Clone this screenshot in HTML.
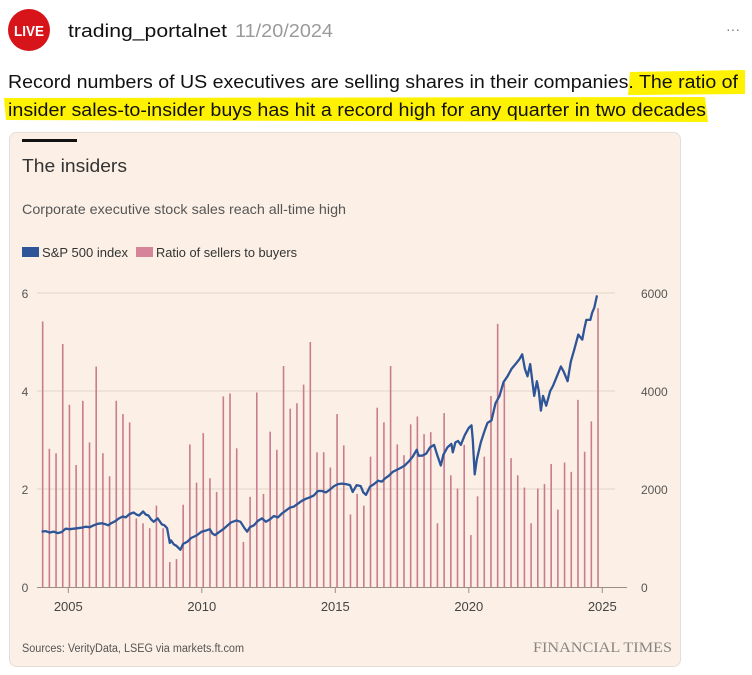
<!DOCTYPE html>
<html><head><meta charset="utf-8"><style>
html,body{margin:0;padding:0;background:#fff;width:752px;height:675px;overflow:hidden}
svg{display:block;font-family:"Liberation Sans",sans-serif}
</style></head><body>
<svg id="page" width="752" height="675" viewBox="0 0 752 675">
<g>
<circle cx="29" cy="30" r="21" fill="#d7141a"/>
<text x="29" y="36" text-anchor="middle" fill="#fff" font-weight="bold" font-size="15" textLength="30" lengthAdjust="spacingAndGlyphs">LIVE</text>
<text x="68" y="37" font-size="18" fill="#111" textLength="159" lengthAdjust="spacingAndGlyphs">trading_portalnet</text>
<text x="235" y="37" font-size="18" fill="#9a9a9a" textLength="98" lengthAdjust="spacingAndGlyphs">11/20/2024</text>
<text x="733" y="34" font-size="14" fill="#777" text-anchor="middle">···</text>
</g>
<g>
<path d="M630 72 L745 70 L745 94 L628 95 Z" fill="#fff200"/>
<path d="M4 98 L705 97 L708 122 L6 120 Z" fill="#fff200"/>
<text x="8" y="88" font-size="18" fill="#111" textLength="730" lengthAdjust="spacingAndGlyphs">Record numbers of US executives are selling shares in their companies. The ratio of</text>
<text x="8" y="116" font-size="18" fill="#111" textLength="698" lengthAdjust="spacingAndGlyphs">insider sales-to-insider buys has hit a record high for any quarter in two decades</text>
</g>
<g>
<rect x="9.5" y="132.5" width="671" height="534" rx="7" fill="#fcf0e6" stroke="#e3ddd6"/>
<rect x="22" y="139" width="55" height="3" fill="#111"/>
<text x="22" y="172" font-size="18" fill="#333" textLength="105" lengthAdjust="spacingAndGlyphs">The insiders</text>
<text x="22" y="214" font-size="14" fill="#555" textLength="324" lengthAdjust="spacingAndGlyphs">Corporate executive stock sales reach all-time high</text>
<g>
<rect x="22" y="247" width="17" height="10" fill="#2d5597"/>
<text x="42" y="257" font-size="12.5" fill="#333" textLength="86" lengthAdjust="spacingAndGlyphs">S&amp;P 500 index</text>
<rect x="136" y="247" width="17" height="10" fill="#d5849a"/>
<text x="156" y="257" font-size="12.5" fill="#333" textLength="141" lengthAdjust="spacingAndGlyphs">Ratio of sellers to buyers</text>
</g>
<g id="plot"></g>
<text x="22" y="652" font-size="11.5" fill="#555" textLength="222" lengthAdjust="spacingAndGlyphs">Sources: VerityData, LSEG via markets.ft.com</text>
<text x="672" y="652" font-size="15" fill="#8a8580" text-anchor="end" font-family="Liberation Serif,serif" textLength="139" lengthAdjust="spacingAndGlyphs">FINANCIAL TIMES</text>
</g>
</svg>
<script>
const ratioValues=[5.42,2.82,2.73,4.96,3.72,2.49,3.80,2.95,4.50,2.73,2.26,3.80,3.53,3.36,1.4,1.3,1.2,1.66,1.2,0.51,0.57,1.68,2.91,2.13,3.14,2.22,1.94,3.89,3.95,2.83,0.92,1.84,3.97,1.90,3.17,2.80,4.51,3.64,3.75,4.13,5.0,2.75,2.75,2.44,3.53,2.89,1.48,1.9,1.66,2.66,3.66,3.36,4.51,2.91,2.69,3.32,3.48,3.12,3.16,1.30,3.55,2.28,2.01,2.90,1.06,1.85,2.66,3.90,5.37,4.16,2.63,2.28,2.03,1.30,2.01,2.10,2.51,1.58,2.54,2.35,3.82,2.76,3.38,5.69];
const ratioStartYear=2004.04;
const spYears=[2004.0,2004.15,2004.3,2004.45,2004.6,2004.75,2004.9,2005.05,2005.2,2005.35,2005.5,2005.65,2005.8,2005.95,2006.1,2006.25,2006.4,2006.5,2006.6,2006.75,2006.9,2007.05,2007.15,2007.3,2007.45,2007.55,2007.65,2007.8,2007.9,2008.0,2008.1,2008.2,2008.35,2008.5,2008.6,2008.7,2008.8,2008.85,2008.95,2009.05,2009.2,2009.3,2009.45,2009.6,2009.8,2010.0,2010.15,2010.3,2010.4,2010.5,2010.65,2010.8,2010.95,2011.1,2011.3,2011.45,2011.6,2011.7,2011.8,2011.95,2012.1,2012.25,2012.4,2012.55,2012.7,2012.85,2013.0,2013.15,2013.3,2013.45,2013.6,2013.75,2013.9,2014.05,2014.2,2014.35,2014.5,2014.65,2014.8,2014.95,2015.1,2015.25,2015.4,2015.55,2015.65,2015.8,2015.95,2016.05,2016.15,2016.3,2016.45,2016.6,2016.75,2016.85,2017.0,2017.15,2017.3,2017.45,2017.6,2017.75,2017.9,2018.05,2018.12,2018.25,2018.4,2018.55,2018.7,2018.8,2018.95,2019.05,2019.2,2019.35,2019.4,2019.5,2019.6,2019.7,2019.85,2020.0,2020.1,2020.15,2020.22,2020.3,2020.45,2020.6,2020.7,2020.85,2021.0,2021.15,2021.3,2021.45,2021.6,2021.75,2021.9,2022.0,2022.1,2022.2,2022.3,2022.45,2022.55,2022.62,2022.7,2022.78,2022.9,2023.05,2023.15,2023.3,2023.45,2023.55,2023.7,2023.82,2023.95,2024.1,2024.25,2024.32,2024.4,2024.55,2024.62,2024.7,2024.8,2024.9];
const spValues=[1130,1140,1110,1130,1100,1120,1190,1180,1190,1200,1210,1230,1220,1260,1290,1300,1280,1260,1300,1340,1400,1440,1420,1490,1520,1480,1460,1540,1480,1460,1380,1330,1400,1280,1260,1200,900,950,870,840,760,880,920,1000,1050,1130,1150,1180,1090,1060,1120,1180,1250,1320,1360,1330,1200,1130,1220,1260,1350,1400,1330,1380,1450,1420,1500,1560,1620,1640,1700,1760,1800,1830,1870,1960,1960,1930,1990,2060,2100,2110,2100,2080,1940,2080,2060,1930,1880,2050,2100,2170,2150,2210,2270,2350,2390,2430,2480,2560,2660,2800,2680,2680,2720,2850,2900,2720,2480,2700,2850,2920,2750,2950,2980,2900,3100,3250,3300,3000,2300,2600,2950,3200,3350,3400,3750,3900,4180,4300,4450,4550,4650,4750,4450,4300,4550,3900,4200,4000,3600,3900,3700,4000,4100,4300,4500,4400,4200,4600,4850,5150,5050,5250,5450,5450,5600,5700,5950];
const yTicks=[0,2,4,6];
const rTicks=[0,2000,4000,6000];
const xTicks=[2005,2010,2015,2020,2025];
const NS='http://www.w3.org/2000/svg';
const plot=document.getElementById('plot');
const x=yr=>68.3+(yr-2005)*26.7;
const y=v=>587-v*49;
const yR=v=>y(v/1000);
function mk(tag,attrs){const e=document.createElementNS(NS,tag);for(const k in attrs)e.setAttribute(k,attrs[k]);plot.appendChild(e);return e;}
yTicks.forEach(t=>{
  if(t>0){const g=mk('line',{x1:37,x2:615,y1:y(t),y2:y(t),stroke:'#e2d3c6','stroke-width':1});
  
  }
  const l=mk('text',{x:25,y:y(t)+5,'font-size':12,fill:'#555','text-anchor':'middle'});l.textContent=t;
  
  
});
rTicks.forEach(t=>{
  const l=mk('text',{x:641,y:yR(t)+5,'font-size':12,fill:'#555','text-anchor':'start'});l.textContent=t;
  
  
});
ratioValues.forEach((v,i)=>{
  const bx=x(ratioStartYear+i*0.2506);
  const b=mk('rect',{x:bx-0.8,y:y(v),width:1.6,height:587-y(v),fill:'#c97c8c'});
  
  
});
const ax=mk('line',{x1:37,x2:627,y1:587.5,y2:587.5,stroke:'#9a8e86','stroke-width':1});


xTicks.forEach(t=>{
  const tk=mk('line',{x1:x(t),x2:x(t),y1:587,y2:593,stroke:'#9a8e86'});
  
  
  const l=mk('text',{x:x(t),y:611,'font-size':13,fill:'#444','text-anchor':'middle'});l.textContent=t;
  
  
});
const d=spYears.map((yr,i)=>(i?'L':'M')+x(yr).toFixed(1)+' '+yR(spValues[i]).toFixed(1)).join(' ');
const line=mk('path',{d:d,fill:'none',stroke:'#2d5597','stroke-width':2.3,'stroke-linejoin':'round'});


</script>
</body></html>
